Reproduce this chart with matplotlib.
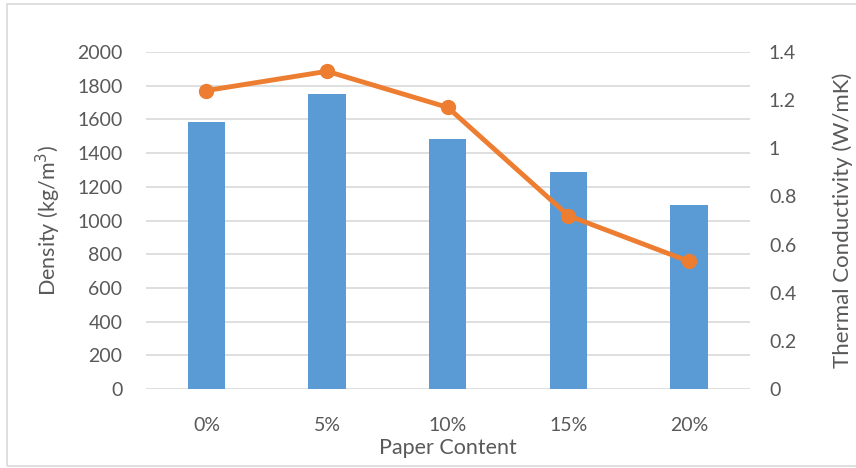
import matplotlib.pyplot as plt
from matplotlib.patches import Rectangle

# data
paper_content = ["0%", "5%", "10%", "15%", "20%"]
density = [1583, 1753, 1485, 1287, 1092]
conductivity = [1.24, 1.32, 1.17, 0.72, 0.53]

BLUE = "#5B9BD5"
ORANGE = "#ED7D31"
TEXT = "#595959"
GRID = "#D9D9D9"

plt.rcParams["font.family"] = ["Lato", "DejaVu Sans"]

fig = plt.figure(figsize=(8.56, 4.68), dpi=100)
ax = fig.add_axes([0.1706, 0.1688, 0.7050, 0.7200])
ax2 = ax.twinx()

x = list(range(len(paper_content)))

# bars (primary axis)
ax.bar(x, density, width=0.31, color=BLUE, zorder=2)
ax.set_ylim(0, 2000)
ax.set_yticks(range(0, 2001, 200))
ax.set_xlim(-0.5, len(x) - 0.5)
ax.set_xticks(x)
ax.set_xticklabels(paper_content)
ax.yaxis.grid(True, color=GRID, linewidth=1.2, zorder=0)
ax.set_axisbelow(True)

# line (secondary axis)
ax2.plot(x, conductivity, color=ORANGE, linewidth=3.5, marker="o",
         markersize=10, zorder=3)
ax2.set_ylim(0, 1.4)
ax2.set_yticks([0, 0.2, 0.4, 0.6, 0.8, 1, 1.2, 1.4])
ax2.set_yticklabels(["0", "0.2", "0.4", "0.6", "0.8", "1", "1.2", "1.4"])

for a in (ax, ax2):
    for side in ("top", "left", "right", "bottom"):
        a.spines[side].set_visible(False)
    a.tick_params(length=0, colors=TEXT, labelsize=14)

ax.tick_params(axis="y", pad=17)
ax2.tick_params(axis="y", pad=14)
ax.tick_params(axis="x", pad=20)

ax.set_xlabel("Paper Content", fontsize=15.5, color=TEXT, labelpad=3)
ax.set_ylabel("Density (kg/m$^3$)", fontsize=15.5, color=TEXT, labelpad=10)
ax2.set_ylabel("Thermal Conductivity (W/mK)", fontsize=16, color=TEXT,
               labelpad=26)

# chart area border
fig.patches.append(Rectangle((0.008, 0.004), 1.2, 0.988, transform=fig.transFigure,
                             fill=False, edgecolor=GRID, linewidth=1.2))

fig.savefig("out.png", dpi=100)
